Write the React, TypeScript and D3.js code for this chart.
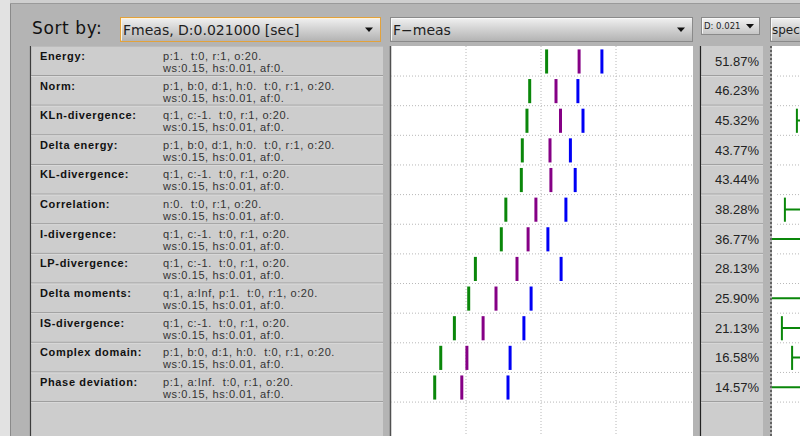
import React from "react";
import * as d3 from "d3";

const categories = [
  "Energy:", "Norm:", "KLn-divergence:", "Delta energy:", "KL-divergence:", "Correlation:",
  "I-divergence:", "LP-divergence:", "Delta moments:", "IS-divergence:", "Complex domain:", "Phase deviation:",
];
const paramLine1 = [
  "p:1.  t:0, r:1, o:20.",
  "p:1, b:0, d:1, h:0.  t:0, r:1, o:20.",
  "q:1, c:-1.  t:0, r:1, o:20.",
  "p:1, b:0, d:1, h:0.  t:0, r:1, o:20.",
  "q:1, c:-1.  t:0, r:1, o:20.",
  "n:0.  t:0, r:1, o:20.",
  "q:1, c:-1.  t:0, r:1, o:20.",
  "q:1, c:-1.  t:0, r:1, o:20.",
  "q:1, a:Inf, p:1.  t:0, r:1, o:20.",
  "q:1, c:-1.  t:0, r:1, o:20.",
  "p:1, b:0, d:1, h:0.  t:0, r:1, o:20.",
  "p:1, a:Inf.  t:0, r:1, o:20.",
];
const paramLine2 = "ws:0.15, hs:0.01, af:0.";
const fmeas = [51.87, 46.23, 45.32, 43.77, 43.44, 38.28, 36.77, 28.13, 25.9, 21.13, 16.58, 14.57];
const purpleVals = [62.7, 55.0, 56.5, 53.0, 53.3, 48.3, 45.7, 42.0, 35.0, 30.7, 25.3, 23.6];
const blueVals = [70.3, 62.3, 64.0, 59.8, 61.4, 58.3, 52.3, 56.7, 46.7, 44.3, 39.7, 39.0];
const xTicks = [25, 50, 75];
const speedLo = [15, 15, 8.3, 15, 15, 4.3, -5, 15, -5, 3.3, 6.7, -5];
const speedHi = [50, 50, 50, 50, 50, 50, 50, 50, 50, 50, 50, 50];

const W = 800;
const H = 436;
const ROW_TOP = 46.4;
const ROW_H = 29.64;

const y = d3
  .scaleBand<string>()
  .domain(categories)
  .range([ROW_TOP, ROW_TOP + ROW_H * categories.length])
  .padding(0);
const x = d3.scaleLinear().domain([0, 100]).range([391, 691]);
const xs = d3.scaleLinear().domain([0, 100]).range([772, 1072]);

const sans = "'Liberation Sans', Arial, Helvetica, sans-serif";
const dejavu = "'DejaVu Sans', sans-serif";

function Combo(props: {
  x: number; y: number; w: number; h: number; text: string; fs: number;
  focus?: boolean; arrow?: boolean; font?: string; small?: boolean; ls?: number; tx?: number;
}) {
  const { x: cx, y: cy, w, h, text, fs, focus, arrow = true, font = dejavu, small, ls = 0, tx = 3 } = props;
  const ax = cx + w - (small ? 10 : 12);
  const ay = cy + h / 2;
  return (
    <g>
      <rect x={cx + 0.5} y={cy + 0.5} width={w - 1} height={h - 1}
        fill={small ? "url(#gSmall)" : "url(#gCombo)"}
        stroke={focus ? "#e2a23c" : "#8a8a8a"} strokeWidth={1} />
      <path d={`M${cx + 1.5},${cy + h - 1.5} V${cy + 1.5} H${cx + w - 1.5}`} fill="none" stroke={focus ? "#fff3dc" : "#f8f8f8"} strokeWidth={1} />
      <text x={cx + tx} y={cy + h / 2 + fs * 0.36} fontSize={fs} fontFamily={font}
        fill="#1e1e1e" letterSpacing={ls} style={{ whiteSpace: "pre" }}>{text}</text>
      {arrow && (
        <path d={`M${ax - 4},${ay - 2} L${ax + 4},${ay - 2} L${ax},${ay + 2.5} Z`} fill="#111" />
      )}
    </g>
  );
}

export default function App() {
  const bw = y.bandwidth();
  const bounds = categories.map((c) => (y(c) as number) + bw);
  const plotTop = ROW_TOP - 0.4;
  return (
    <div style={{ position: "fixed", left: 0, top: 0, width: W, height: H, overflow: "hidden" }}>
      <svg width={W} height={H} viewBox={`0 0 ${W} ${H}`} style={{ display: "block" }}>
        <defs>
          <linearGradient id="gCombo" x1="0" y1="0" x2="0" y2="1">
            <stop offset="0" stopColor="#f2f2f2" />
            <stop offset="0.45" stopColor="#d4d4d4" />
            <stop offset="1" stopColor="#b2b2b2" />
          </linearGradient>
          <linearGradient id="gSmall" x1="0" y1="0" x2="0" y2="1">
            <stop offset="0" stopColor="#f4f4f4" />
            <stop offset="1" stopColor="#c4c4c4" />
          </linearGradient>
          <clipPath id="clipSpeed">
            <rect x={772} y={plotTop} width={W - 772} height={H - plotTop} />
          </clipPath>
        </defs>

        {/* window background */}
        <rect x={0} y={0} width={W} height={H} fill="#b4b4b4" />
        <rect x={0} y={0} width={10.5} height={H} fill="#e2e2e2" />
        <rect x={10.5} y={0} width={W} height={3.5} fill="#cfcfcf" />
        <line x1={10.5} y1={3.5} x2={W} y2={3.5} stroke="#9a9a9a" />
        <line x1={10.5} y1={3.5} x2={10.5} y2={H} stroke="#8a8a8a" />

        {/* header */}
        <text x={32} y={34} fontSize={17} fontFamily={dejavu} fill="#111" letterSpacing={0.6}>Sort by:</text>
        <Combo x={120} y={17} w={261} h={25} text="Fmeas, D:0.021000 [sec]" fs={14} focus />
        <Combo x={390} y={17} w={303} h={25} text={"F\u2212meas"} fs={14} />
        <Combo x={701} y={17} w={59} h={18} text="D: 0.021" fs={8.5} small />
        <Combo x={770} y={17} w={40} h={25} text="spec" fs={12} arrow={false} tx={2} />

        {/* left panel */}
        <rect x={31} y={plotTop} width={352} height={H - plotTop} fill="#cdcdcd" />
        <line x1={30.5} y1={plotTop} x2={30.5} y2={H} stroke="#3c3c3c" strokeWidth={1.2} />
        <line x1={31} y1={plotTop + 0.5} x2={383} y2={plotTop + 0.5} stroke="#bcbcbc" />
        {bounds.map((b, i) => (
          <g key={"ls" + i}>
            <line x1={31} y1={b - 0.5} x2={383} y2={b - 0.5} stroke="#9c9c9c" />
            <line x1={31} y1={b + 0.5} x2={383} y2={b + 0.5} stroke="#dadada" />
          </g>
        ))}
        {categories.map((c, i) => {
          const top = y(c) as number;
          return (
            <g key={"lt" + i}>
              <text x={40} y={top + 13.5} fontSize={11} fontWeight="bold" fontFamily={sans} fill="#111" letterSpacing={0.65}>{c}</text>
              <text x={163} y={top + 13.5} fontSize={11} fontFamily={sans} fill="#333" letterSpacing={0.6} style={{ whiteSpace: "pre" }}>{paramLine1[i]}</text>
              <text x={163} y={top + 25.5} fontSize={11} fontFamily={sans} fill="#333" letterSpacing={0.6} style={{ whiteSpace: "pre" }}>{paramLine2}</text>
            </g>
          );
        })}

        {/* plot */}
        <rect x={391} y={plotTop} width={302} height={H - plotTop} fill="#ffffff" />
        <line x1={390.5} y1={plotTop} x2={390.5} y2={H} stroke="#505050" strokeWidth={1.5} />
        {xTicks.map((t) => (
          <line key={"vx" + t} x1={x(t)} y1={plotTop} x2={x(t)} y2={H} stroke="#b8b8b8" strokeDasharray="1,2" />
        ))}
        {bounds.map((b, i) => (
          <line key={"hx" + i} x1={391} y1={b} x2={693} y2={b} stroke="#b8b8b8" strokeDasharray="1,2" />
        ))}
        {categories.map((c, i) => {
          const top = y(c) as number;
          const y1 = top + 3;
          const y2 = top + bw - 2.5;
          return (
            <g key={"m" + i}>
              <line x1={x(fmeas[i])} x2={x(fmeas[i])} y1={y1} y2={y2} stroke="#0a870a" strokeWidth={3} />
              <line x1={x(purpleVals[i])} x2={x(purpleVals[i])} y1={y1} y2={y2} stroke="#850085" strokeWidth={3} />
              <line x1={x(blueVals[i])} x2={x(blueVals[i])} y1={y1} y2={y2} stroke="#0000f5" strokeWidth={3} />
            </g>
          );
        })}

        {/* percentage column */}
        <rect x={701} y={plotTop} width={62} height={H - plotTop} fill="#cdcdcd" />
        <line x1={700.5} y1={plotTop} x2={700.5} y2={H} stroke="#222" strokeWidth={1.2} />
        {bounds.map((b, i) => (
          <g key={"ps" + i}>
            <line x1={701} y1={b - 0.5} x2={763} y2={b - 0.5} stroke="#9c9c9c" />
            <line x1={701} y1={b + 0.5} x2={763} y2={b + 0.5} stroke="#dadada" />
          </g>
        ))}
        {categories.map((c, i) => (
          <text key={"pt" + i} x={759} y={(y(c) as number) + bw / 2 + 4.6} fontSize={13} fontFamily={sans}
            fill="#222" textAnchor="end">{fmeas[i].toFixed(2) + "%"}</text>
        ))}

        {/* speed panel */}
        <rect x={772} y={plotTop} width={W - 772} height={H - plotTop} fill="#ffffff" />
        <line x1={771} y1={plotTop} x2={771} y2={H} stroke="#111" strokeDasharray="2,2" />
        <g clipPath="url(#clipSpeed)">
          {bounds.map((b, i) => (
            <line key={"sx" + i} x1={777} y1={b} x2={W} y2={b} stroke="#b8b8b8" strokeDasharray="1,2" />
          ))}
          {categories.map((c, i) => {
            const top = y(c) as number;
            const mid = top + bw / 2;
            return (
              <g key={"sp" + i}>
                <line x1={xs(speedLo[i])} x2={xs(speedHi[i])} y1={mid} y2={mid} stroke="#0a870a" strokeWidth={2} />
                <line x1={xs(speedLo[i])} x2={xs(speedLo[i])} y1={top + 3} y2={top + bw - 2.5} stroke="#0a870a" strokeWidth={2} />
              </g>
            );
          })}
        </g>
      </svg>
    </div>
  );
}
